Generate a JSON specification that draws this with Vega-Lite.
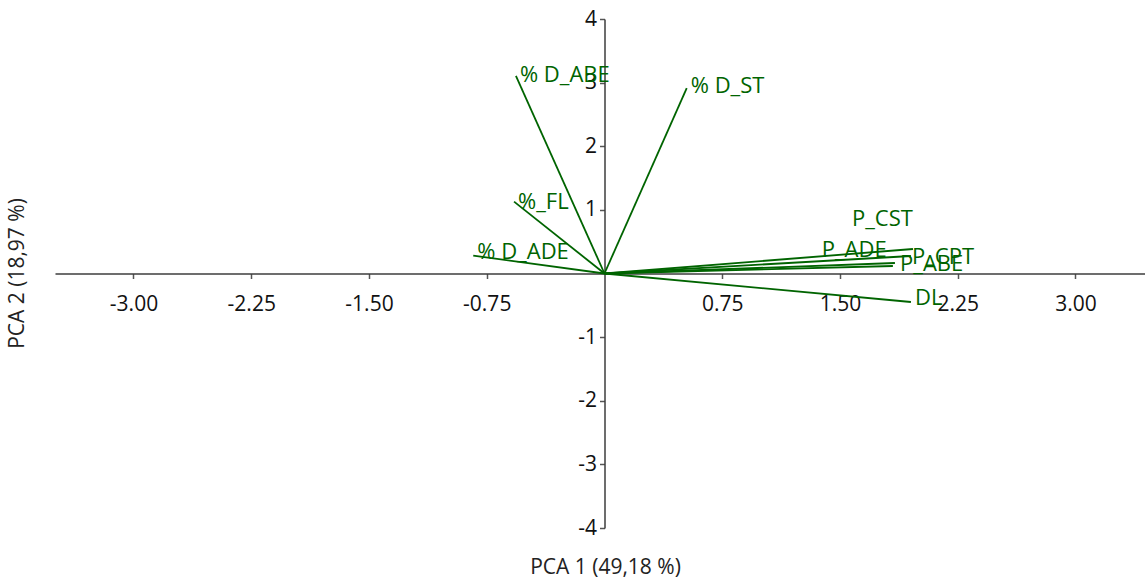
{
  "$schema": "https://vega.github.io/schema/vega-lite/v6.json",
  "width": 1090,
  "height": 509,
  "autosize": {"type": "none"},
  "padding": {"left": 55, "top": 19, "right": 0, "bottom": 54},
  "background": "white",
  "config": {
    "view": {"stroke": null},
    "font": "Open Sans",
    "axis": {"grid": false}
  },
  "data": {
    "values": [
      {"name": "% D_ABE", "x": -0.564, "y": 3.105, "lx": -0.564, "ly": 3.12},
      {"name": "% D_ST", "x": 0.524, "y": 2.912, "lx": 0.524, "ly": 2.94},
      {"name": "%_FL", "x": -0.576, "y": 1.129, "lx": -0.576, "ly": 1.13},
      {"name": "% D_ADE", "x": -0.836, "y": 0.28, "lx": -0.836, "ly": 0.34},
      {"name": "P_CST", "x": 1.965, "y": 0.385, "lx": 1.551, "ly": 0.852},
      {"name": "P_CPT", "x": 1.952, "y": 0.275, "lx": 1.933, "ly": 0.26},
      {"name": "P_ADE", "x": 1.85, "y": 0.165, "lx": 1.358, "ly": 0.37},
      {"name": "P_ABE", "x": 1.837, "y": 0.118, "lx": 1.857, "ly": 0.15},
      {"name": "DL", "x": 1.952, "y": -0.448, "lx": 1.952, "ly": -0.385}
    ]
  },
  "layer": [
    {
      "mark": {"type": "rule", "color": "#006400", "strokeWidth": 1.8},
      "encoding": {
        "x": {
          "field": "x",
          "type": "quantitative",
          "scale": {"domain": [-3.5, 3.443], "nice": false, "zero": false},
          "axis": {
            "title": "PCA 1 (49,18 %)",
            "values": [-3, -2.25, -1.5, -0.75, 0.75, 1.5, 2.25, 3],
            "format": ".2f",
            "labelExpr": "replace(datum.label, '\u2212', '-')",
            "offset": -254.5,
            "domainColor": "#3c3c3c",
            "domainWidth": 1.5,
            "tickColor": "#555555",
            "tickSize": 5,
            "tickWidth": 1.5,
            "labelFont": "Open Sans",
            "labelFontSize": 21,
            "labelColor": "#111111",
            "labelBaseline": "middle",
            "labelPadding": 26,
            "labelFlush": false,
            "labelOverlap": false,
            "titleFont": "Open Sans",
            "titleFontSize": 21,
            "titleFontWeight": "normal",
            "titleColor": "#222222",
            "titleBaseline": "middle",
            "titleX": 550,
            "titleY": 294,
            "titleAnchor": null
          }
        },
        "y": {
          "field": "y",
          "type": "quantitative",
          "scale": {"domain": [-4, 4], "nice": false, "zero": false},
          "axis": {
            "title": "PCA 2 (18,97 %)",
            "values": [-4, -3, -2, -1, 1, 2, 3, 4],
            "format": "d",
            "labelExpr": "replace(datum.label, '\u2212', '-')",
            "offset": -549.5,
            "domainColor": "#3c3c3c",
            "domainWidth": 1.5,
            "tickColor": "#555555",
            "tickSize": 5,
            "tickWidth": 1.5,
            "labelFont": "Open Sans",
            "labelFontSize": 21,
            "labelColor": "#111111",
            "labelPadding": 3,
            "labelOverlap": false,
            "titleFont": "Open Sans",
            "titleFontSize": 21,
            "titleFontWeight": "normal",
            "titleColor": "#222222",
            "titleAngle": -90,
            "titleAlign": "center",
            "titleBaseline": "middle",
            "titleX": -587.5,
            "titleY": 254
          }
        },
        "x2": {"datum": 0},
        "y2": {"datum": 0}
      }
    },
    {
      "mark": {"type": "text", "color": "#006400", "align": "left", "baseline": "middle", "dx": 4, "fontSize": 22, "font": "Open Sans"},
      "encoding": {
        "x": {"field": "lx", "type": "quantitative"},
        "y": {"field": "ly", "type": "quantitative"},
        "text": {"field": "name"}
      }
    }
  ]
}
